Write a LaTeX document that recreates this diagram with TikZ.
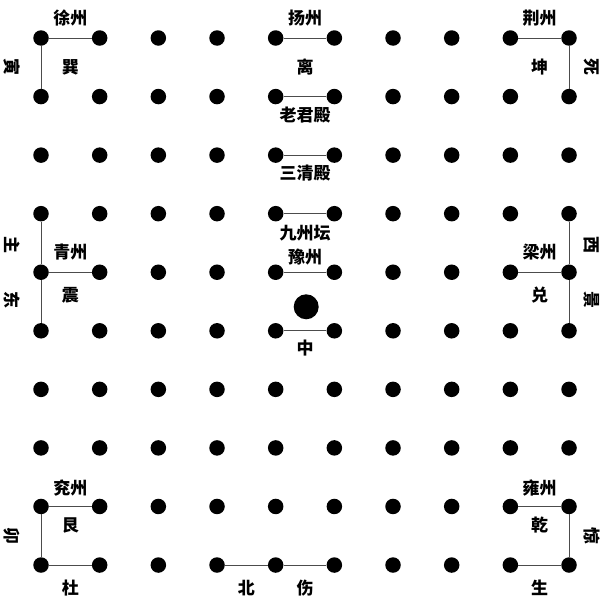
\documentclass[tikz,border=0pt]{standalone}
\usepackage{fontspec}
\newfontfamily\cjk{Noto Sans CJK SC}
\tikzset{
  dot/.style={circle, fill=black, inner sep=0pt, minimum size=15.5pt},
  bigdot/.style={circle, fill=black, inner sep=0pt, minimum size=25pt},
  link/.style={gray!60!black, line width=1pt},
  lab/.style={font=\cjk\bfseries\fontsize{17}{18}\selectfont, inner sep=0pt},
  side/.style={lab, rotate=-90}
}
\begin{document}
\begin{tikzpicture}[x=58.67pt, y=-58.56pt]
  \useasboundingbox (-0.699,-0.649) rectangle (9.562,9.597);
  % 点阵 10x10
  \foreach \i in {0,...,9}
    \foreach \j in {0,...,9}
      \node[dot] (d-\i-\j) at (\i,\j) {};
  % 中宫大点
  \node[bigdot] (mid) at (4.52,4.59) {};

  % 徐州 巽
  \draw[link] (d-1-0) -- (d-0-0) -- (d-0-1);
  \node[lab] (xuzhou) at (0.5,-0.34) {徐州};
  \node[lab] (xun) at (0.5,0.5) {巽};
  \node[side] (yin) at (-0.49,0.5) {寅};

  % 扬州 离
  \draw[link] (d-4-0) -- (d-5-0);
  \node[lab] (yangzhou) at (4.5,-0.34) {扬州};
  \node[lab] (li) at (4.5,0.5) {离};

  % 荆州 坤
  \draw[link] (d-8-0) -- (d-9-0) -- (d-9-1);
  \node[lab] (jingzhou) at (8.5,-0.34) {荆州};
  \node[lab] (kun) at (8.5,0.5) {坤};
  \node[side] (si) at (9.39,0.5) {死};

  % 中轴各殿
  \draw[link] (d-4-1) -- (d-5-1);
  \node[lab] (laojun) at (4.5,1.31) {老君殿};
  \draw[link] (d-4-2) -- (d-5-2);
  \node[lab] (sanqing) at (4.5,2.31) {三清殿};
  \draw[link] (d-4-3) -- (d-5-3);
  \node[lab] (jiuzhou) at (4.5,3.33) {九州坛};
  \draw[link] (d-4-4) -- (d-5-4);
  \node[lab] (yuzhou) at (4.5,3.74) {豫州};
  \draw[link] (d-4-5) -- (d-5-5);
  \node[lab] (zhong) at (4.5,5.29) {中};

  % 青州 震
  \draw[link] (d-0-3) -- (d-0-4) -- (d-0-5);
  \draw[link] (d-0-4) -- (d-1-4);
  \node[lab] (qingzhou) at (0.5,3.65) {青州};
  \node[lab] (zhen) at (0.5,4.39) {震};
  \node[side] (zhu) at (-0.49,3.53) {主};
  \node[side] (dong) at (-0.49,4.47) {东};

  % 梁州 兑
  \draw[link] (d-9-3) -- (d-9-4) -- (d-9-5);
  \draw[link] (d-8-4) -- (d-9-4);
  \node[lab] (liangzhou) at (8.5,3.65) {梁州};
  \node[lab] (dui) at (8.5,4.39) {兑};
  \node[side] (xi) at (9.39,3.53) {西};
  \node[side] (jing) at (9.39,4.47) {景};

  % 兖州 艮
  \draw[link] (d-1-8) -- (d-0-8) -- (d-0-9) -- (d-1-9);
  \node[lab] (yanzhou) at (0.5,7.68) {兖州};
  \node[lab] (gen) at (0.5,8.32) {艮};
  \node[side] (mao) at (-0.49,8.5) {卯};
  \node[lab] (du) at (0.5,9.39) {杜};

  % 北 伤
  \draw[link] (d-3-9) -- (d-4-9) -- (d-5-9);
  \node[lab] (bei) at (3.5,9.39) {北};
  \node[lab] (shang) at (4.5,9.39) {伤};

  % 雍州 乾
  \draw[link] (d-8-8) -- (d-9-8) -- (d-9-9) -- (d-8-9);
  \node[lab] (yongzhou) at (8.5,7.68) {雍州};
  \node[lab] (qian) at (8.5,8.32) {乾};
  \node[side] (jingmen) at (9.39,8.5) {惊};
  \node[lab] (sheng) at (8.5,9.39) {生};
\end{tikzpicture}
\end{document}
